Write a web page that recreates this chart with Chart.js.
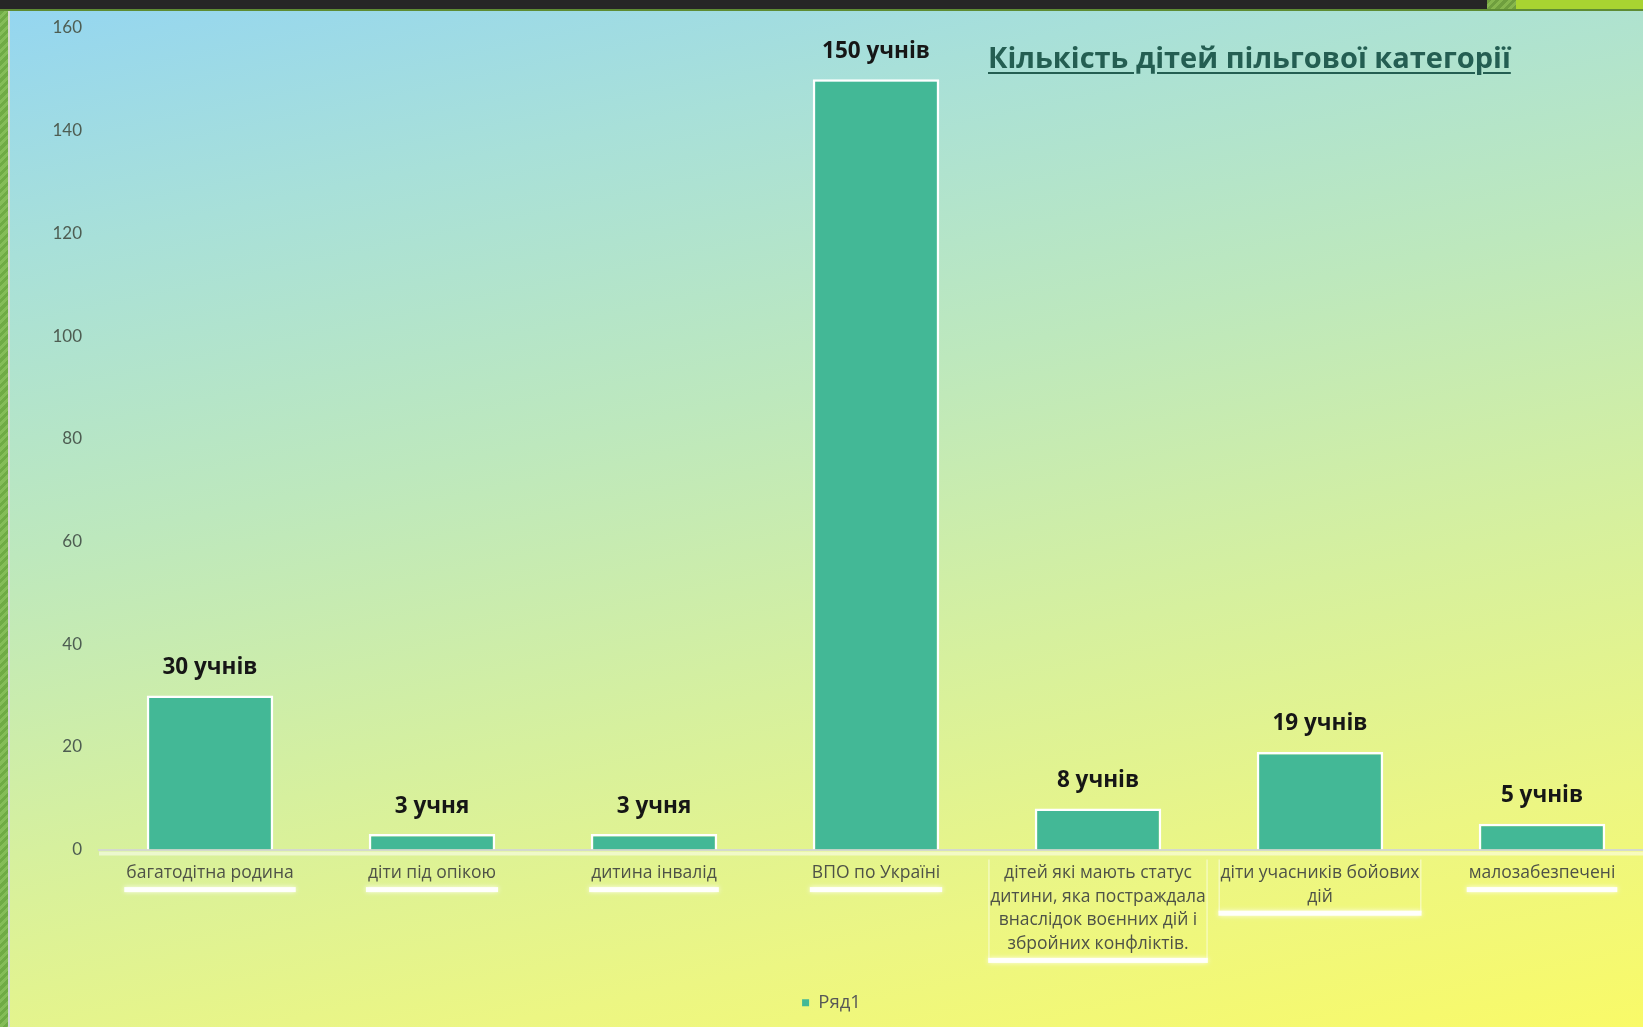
<!DOCTYPE html>
<html lang="uk">
<head>
<meta charset="utf-8">
<title>Кількість дітей пільгової категорії</title>
<script src="https://cdn.jsdelivr.net/npm/chart.js@4.4.1/dist/chart.umd.min.js"></script>
<style>
    html, body {
        margin: 0;
        padding: 0;
        width: 1643px;
        height: 1027px;
        overflow: hidden;
        background: #262626;
    }
    .topBar {
        position: absolute; left: 0; top: 0; width: 1643px; height: 9px;
        background: #262626;
    }
    .topHatch {
        position: absolute; left: 1487px; top: 0; width: 29px; height: 9px;
        background: repeating-linear-gradient(135deg, #6f9e3e 0 3px, #86b64e 3px 6px);
    }
    .topBlock {
        position: absolute; left: 1516px; top: 0; width: 127px; height: 9px;
        background: #a8d431;
    }
    .topLine {
        position: absolute; left: 0; top: 9px; width: 1643px; height: 2px;
        background: #5e8c34;
    }
    .leftStripe {
        position: absolute; left: 0; top: 11px; width: 8px; height: 1016px;
        background: repeating-linear-gradient(135deg, #6fab45 0 3px, #84bd58 3px 6px);
        border-right: 2px solid #d6dbd4;
    }
    .slide {
        position: absolute; left: 10px; top: 11px; width: 1633px; height: 1016px;
        background: linear-gradient(168deg, #95d6f0 0%, #a8e0d9 18%, #bde8bd 40%, #d6f09e 62%, #ecf683 82%, #f9fa68 100%);
    }
    #chartBox {
        position: absolute; left: 10px; top: 11px; width: 1662px; height: 1016px;
    }
    #titre {
        position: absolute; left: 988px; top: 37px;
        font-family: "Open Sans", "Liberation Sans", sans-serif;
        font-weight: bold; font-size: 29px;
        color: #245e52;
        text-decoration: underline;
        text-decoration-thickness: 2px;
        text-underline-offset: 4px;
        white-space: nowrap;
    }
</style>
</head>
<body>
<div class="topBar"></div>
<div class="topHatch"></div>
<div class="topBlock"></div>
<div class="topLine"></div>
<div class="leftStripe"></div>
<div class="slide"></div>
<div id="chartBox"><canvas id="chart"></canvas></div>
<div id="titre">Кількість дітей пільгової категорії</div>

<script>
// données
const categories = [
    "багатодітна родина",
    "діти під опікою",
    "дитина інвалід",
    "ВПО по Україні",
    ["дітей які мають статус", "дитини, яка постраждала", "внаслідок воєнних дій і", "збройних конфліктів."],
    ["діти учасників бойових", "дій"],
    "малозабезпечені"
];
const values = [30, 3, 3, 150, 8, 19, 5];
const units = ["учнів", "учня", "учня", "учнів", "учнів", "учнів", "учнів"];
const seriesName = "Ряд1";
const yTicks = [0, 20, 40, 60, 80, 100, 120, 140, 160];

const BAR_COLOR = "#43b896";
const LABEL_FONT = '"Open Sans", "Liberation Sans", sans-serif';
const TICK_PADDING = 12;
const TICK_SIZE = 17.5;
const LINE_HEIGHT = 23.6;

// étiquettes au-dessus des barres
const valueLabels = {
    id: "valueLabels",
    afterDatasetsDraw(chart) {
        const ctx = chart.ctx;
        const meta = chart.getDatasetMeta(0);
        ctx.save();
        ctx.font = "bold 22.5px " + LABEL_FONT;
        ctx.fillStyle = "#161616";
        ctx.textAlign = "center";
        ctx.textBaseline = "middle";
        meta.data.forEach((bar, i) => {
            ctx.fillText(values[i] + " " + units[i], bar.x, bar.y - 28);
        });
        ctx.restore();
    }
};

// petites bandes blanches sous les libellés de l'axe x
const labelBoxes = {
    id: "labelBoxes",
    afterDraw(chart) {
        const ctx = chart.ctx;
        const xScale = chart.scales.x;
        const top = xScale.top + TICK_PADDING;
        ctx.save();
        ctx.font = TICK_SIZE + "px " + LABEL_FONT;
        categories.forEach((cat, i) => {
            const lines = Array.isArray(cat) ? cat : [cat];
            let w = 0;
            lines.forEach((l) => { w = Math.max(w, ctx.measureText(l).width); });
            w += 4;
            const x = xScale.getPixelForTick(i);
            const bottom = top + lines.length * LINE_HEIGHT;
            ctx.shadowColor = "rgba(255,255,255,0.9)";
            ctx.shadowBlur = 5;
            ctx.fillStyle = "rgba(255,255,255,0.95)";
            ctx.fillRect(x - w / 2, bottom + 2, w, 5);
            ctx.shadowBlur = 0;
            if (lines.length > 1) {
                ctx.fillStyle = "rgba(255,255,255,0.45)";
                ctx.fillRect(x - w / 2, top - 2, 1.5, bottom - top + 6);
                ctx.fillRect(x + w / 2 - 1.5, top - 2, 1.5, bottom - top + 6);
            }
        });
        // reflet blanc sous l'axe
        ctx.fillStyle = "rgba(255,255,255,0.5)";
        ctx.fillRect(xScale.left, xScale.top + 2, xScale.right - xScale.left, 4);
        ctx.restore();
    }
};

const chart = new Chart(document.getElementById("chart"), {
    type: "bar",
    data: {
        labels: categories,
        datasets: [
            {
                label: seriesName,
                data: values,
                backgroundColor: BAR_COLOR,
                borderColor: "#ffffff",
                borderWidth: 2.5,
                barPercentage: 0.57,
                categoryPercentage: 1
            }
        ]
    },
    options: {
        responsive: true,
        maintainAspectRatio: false,
        animation: false,
        layout: {
            padding: { left: 0, right: 19, top: 17, bottom: 5 }
        },
        scales: {
            x: {
                grid: { display: false, drawTicks: false },
                border: { display: true, color: "#d4d9cd", width: 2 },
                ticks: {
                    padding: TICK_PADDING,
                    maxRotation: 0,
                    autoSkip: false,
                    color: "#4e5247",
                    font: { family: LABEL_FONT, size: TICK_SIZE, lineHeight: LINE_HEIGHT / TICK_SIZE }
                },
                afterFit(scale) {
                    scale.height = 134;
                }
            },
            y: {
                min: yTicks[0],
                max: yTicks[yTicks.length - 1],
                grid: { display: false, drawTicks: false },
                border: { display: false },
                afterBuildTicks(scale) {
                    scale.ticks = yTicks.map((v) => ({ value: v }));
                },
                ticks: {
                    padding: 17,
                    color: "#4e5d52",
                    font: { family: "Lato, sans-serif", size: 17 }
                },
                afterFit(scale) {
                    scale.width = 89;
                    // le padding des ticks ne doit pas pousser le haut du graphique
                    scale.paddingTop = 8;
                }
            }
        },
        plugins: {
            legend: {
                position: "bottom",
                labels: {
                    boxWidth: 7,
                    boxHeight: 7,
                    padding: 10,
                    color: "#575757",
                    font: { family: LABEL_FONT, size: 18.5 },
                    generateLabels(chart) {
                        return Chart.defaults.plugins.legend.labels.generateLabels(chart).map((l) => {
                            l.lineWidth = 0;
                            l.strokeStyle = BAR_COLOR;
                            return l;
                        });
                    }
                }
            },
            tooltip: { enabled: false },
            title: { display: false }
        }
    },
    plugins: [valueLabels, labelBoxes]
});
</script>
</body>
</html>
